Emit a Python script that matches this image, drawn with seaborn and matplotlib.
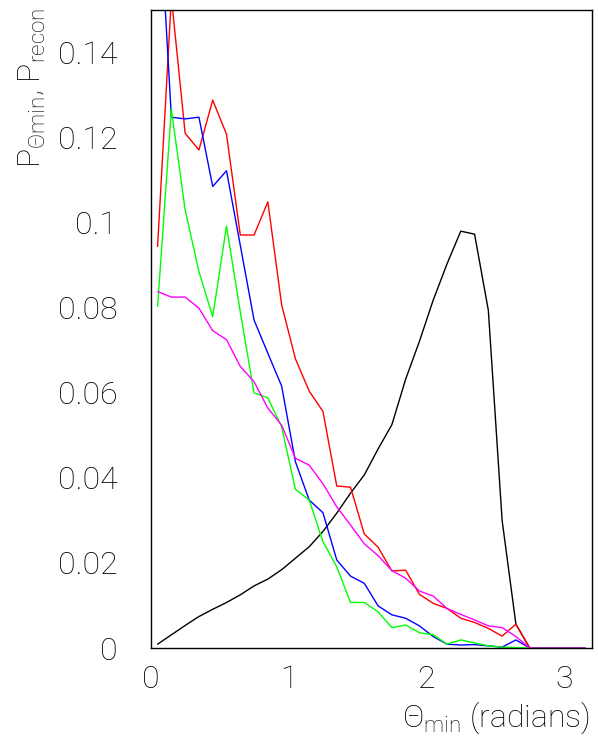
import numpy as np
import pandas as pd
import matplotlib
matplotlib.use("Agg")
import matplotlib.pyplot as plt
import seaborn as sns
from matplotlib.ticker import MultipleLocator, FuncFormatter

# ---- data (bin centres of 0.1-wide bins from 0 to 3.2) ----
theta = np.round(np.arange(32) * 0.1 + 0.05, 3)

p_black = [0.0009, 0.0031, 0.0053, 0.0074, 0.0091, 0.0107, 0.0125, 0.0146,
           0.0162, 0.0184, 0.0211, 0.0238, 0.0274, 0.0317, 0.0364, 0.0407,
           0.0468, 0.0525, 0.0632, 0.0721, 0.0818, 0.0903, 0.0980, 0.0973,
           0.0794, 0.0300, 0.0056, 0.0, 0.0, 0.0, 0.0, 0.0]
p_red = [0.0944, 0.1530, 0.1210, 0.1171, 0.1288, 0.1208, 0.0971, 0.0971,
         0.1049, 0.0807, 0.0680, 0.0604, 0.0556, 0.0381, 0.0378, 0.0268,
         0.0237, 0.0181, 0.0183, 0.0126, 0.0105, 0.0093, 0.0070, 0.0060,
         0.0046, 0.0028, 0.0056, 0.0, 0.0, 0.0, 0.0, 0.0]
p_blue = [0.1820, 0.1248, 0.1244, 0.1248, 0.1085, 0.1122, 0.0947, 0.0771,
          0.0693, 0.0616, 0.0438, 0.0348, 0.0318, 0.0207, 0.0169, 0.0152,
          0.0099, 0.0078, 0.0070, 0.0052, 0.0027, 0.0009, 0.0007, 0.0008,
          0.0005, 0.0002, 0.0019, 0.0, 0.0, 0.0, 0.0, 0.0]
p_green = [0.0803, 0.1267, 0.1030, 0.0885, 0.0779, 0.0992, 0.0790, 0.0600,
           0.0588, 0.0520, 0.0373, 0.0348, 0.0250, 0.0191, 0.0107, 0.0107,
           0.0085, 0.0048, 0.0054, 0.0036, 0.0031, 0.0009, 0.0019, 0.0012,
           0.0005, 0.0002, 0.0001, 0.0, 0.0, 0.0, 0.0, 0.0]
p_magenta = [0.0838, 0.0825, 0.0825, 0.0799, 0.0746, 0.0725, 0.0662, 0.0626,
             0.0564, 0.0524, 0.0446, 0.0430, 0.0386, 0.0332, 0.0289, 0.0245,
             0.0217, 0.0182, 0.0164, 0.0134, 0.0122, 0.0093, 0.0079, 0.0066,
             0.0052, 0.0048, 0.0027, 0.0, 0.0, 0.0, 0.0, 0.0]

series_names = ["black", "red", "blue", "green", "magenta"]
series_vals = [p_black, p_red, p_blue, p_green, p_magenta]
colors = {"black": "#000000", "red": "#ff0000", "blue": "#0000ff",
          "green": "#00ff00", "magenta": "#ff00ff"}

y_ticks = [0, 0.02, 0.04, 0.06, 0.08, 0.1, 0.12, 0.14]
x_ticks = [0, 1, 2, 3]

df = pd.concat([pd.DataFrame({"theta": theta, "p": v, "series": n})
                for n, v in zip(series_names, series_vals)], ignore_index=True)

# ---- style ----
sns.set_theme(style="white")
plt.rcParams["font.family"] = ["Roboto", "DejaVu Sans"]
plt.rcParams["font.weight"] = "light"
plt.rcParams["text.color"] = "black"
plt.rcParams["xtick.color"] = "black"
plt.rcParams["ytick.color"] = "black"
plt.rcParams["mathtext.fontset"] = "custom"
plt.rcParams["mathtext.rm"] = "Roboto:light"
plt.rcParams["mathtext.it"] = "Roboto:light"
plt.rcParams["mathtext.bf"] = "Roboto:light"
plt.rcParams["mathtext.default"] = "rm"

fig = plt.figure(figsize=(5.98, 7.38), dpi=100)
ax = fig.add_axes([150.7 / 598, 1 - 648 / 738, 441 / 598, 638 / 738])

sns.lineplot(data=df, x="theta", y="p", hue="series", hue_order=series_names,
             palette=colors, estimator=None, sort=False, legend=False,
             linewidth=1.0, ax=ax)

ax.set_xlim(0, 3.2)
ax.set_ylim(0, 0.15)
ax.set_xticks(x_ticks)
ax.set_yticks(y_ticks)
ax.xaxis.set_minor_locator(MultipleLocator(0.2))
ax.yaxis.set_minor_locator(MultipleLocator(0.005))
ax.yaxis.set_major_formatter(FuncFormatter(lambda v, p: "%g" % round(v, 3)))
ax.xaxis.set_major_formatter(FuncFormatter(lambda v, p: "%g" % v))

ax.tick_params(axis="both", which="both", direction="in", top=False,
               right=False, color="black", labelcolor="black", width=1.0)
ax.tick_params(axis="both", which="major", length=16, labelsize=23)
ax.tick_params(axis="both", which="minor", length=8)
ax.tick_params(axis="y", which="major", pad=24)
ax.tick_params(axis="x", which="major", pad=12)

for s in ax.spines.values():
    s.set_visible(True)
    s.set_color("black")
    s.set_linewidth(1.0)
ax.set_xlabel("")
ax.set_ylabel("")

fig.text(590 / 598, 1 - 718 / 738, r"$\Theta_{\mathrm{min}}$ (radians)",
         ha="right", va="center", fontsize=23, color="black")
fig.text(32 / 598, 1 - 8 / 738,
         r"$\mathrm{P}_{\Theta\mathrm{min}}$, $\mathrm{P}_{\mathrm{recon}}$",
         ha="center", va="top", rotation=90, fontsize=23, color="black")

fig.savefig("out.png", dpi=100)
